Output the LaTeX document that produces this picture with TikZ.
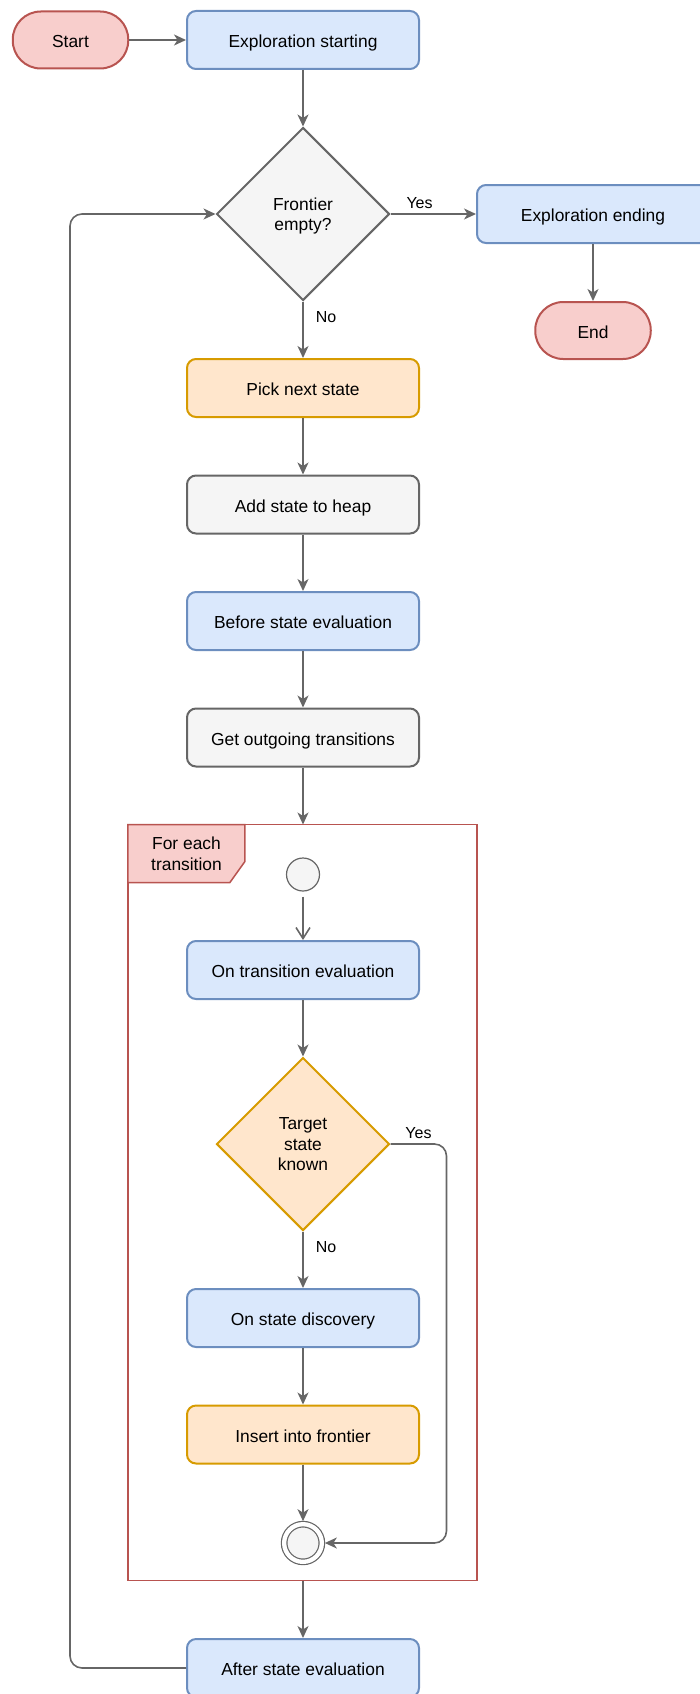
\documentclass[tikz,border=0pt]{standalone}
\usepackage{fontspec}
\setmainfont{Liberation Sans}
\usetikzlibrary{positioning,shapes.geometric,arrows.meta}

\definecolor{bluefill}{HTML}{DAE8FC}
\definecolor{blueline}{HTML}{6C8EBF}
\definecolor{redfill}{HTML}{F8CECC}
\definecolor{redline}{HTML}{B85450}
\definecolor{orangefill}{HTML}{FFE6CC}
\definecolor{orangeline}{HTML}{D79B00}
\definecolor{grayfill}{HTML}{F5F5F5}
\definecolor{grayline}{HTML}{666666}

\tikzset{
	txt/.style={font=\fontsize{17.4}{20.5}\selectfont},
	box/.style={txt, rectangle, rounded corners=9pt, line width=2pt, minimum width=232pt, minimum height=58pt, align=center, text height=15pt, text depth=0pt},
	bluebox/.style={box, draw=blueline, fill=bluefill},
	orangebox/.style={box, draw=orangeline, fill=orangefill},
	graybox/.style={box, draw=grayline, fill=grayfill},
	terminal/.style={txt, rectangle, rounded corners=28pt, line width=2pt, minimum width=115.5pt, minimum height=57pt, draw=redline, fill=redfill, text height=15pt, text depth=0pt},
	decision/.style={txt, diamond, aspect=1, inner sep=0pt, line width=2pt, minimum width=173pt, minimum height=173pt, align=center, text depth=0pt},
	initial/.style={circle, minimum size=33pt, inner sep=0pt, line width=1.2pt, draw=grayline, fill=grayfill},
	final/.style={circle, minimum size=37.7pt, inner sep=0pt, line width=1.2pt, draw=grayline, fill=grayfill, double=white, double distance=4.3pt, outer sep=3pt},
	loopframe/.style={rectangle, draw=redline, line width=1.5pt, outer sep=0pt},
	framelabel/.style={draw=redline, fill=redfill, line width=1.5pt},
	flow/.style={draw=grayline, line width=1.6pt, -{Stealth[length=12pt,width=11pt,inset=3.5pt]}},
	lbl/.style={font=\fontsize{16}{19}\selectfont, inner sep=2pt}
}

\begin{document}
\begin{tikzpicture}[node distance=174pt, on grid]
	\useasboundingbox (0pt,0pt) rectangle (700pt,-1694pt);
	\node[terminal] (start) at (70.5pt,-40pt) {Start};
	\node[bluebox, right=232.5pt of start] (explstart) {Exploration starting};
	\node[decision, draw=grayline, fill=grayfill, below=of explstart] (frontier) {Frontier\\empty?};
	\node[bluebox, right=290pt of frontier] (explend) {Exploration ending};
	\node[terminal, below=116.5pt of explend] (end) {End};
	\node[orangebox, below=of frontier] (pick) {Pick next state};
	\node[graybox, below=116.5pt of pick] (heap) {Add state to heap};
	\node[bluebox, below=116.5pt of heap] (before) {Before state evaluation};
	\node[graybox, below=116.5pt of before] (outgoing) {Get outgoing transitions};
	\node[initial, below=137pt of outgoing] (init) {};
	\node[bluebox, below=95.5pt of init] (ontrans) {On transition evaluation};
	\node[decision, draw=orangeline, fill=orangefill, below=of ontrans] (known) {Target\\state\\known};
	\node[bluebox, below=of known] (discovery) {On state discovery};
	\node[orangebox, below=116.5pt of discovery] (insert) {Insert into frontier};
	\node[final, below=108.5pt of insert] (final) {};
	\node[bluebox, below=125pt of final] (after) {After state evaluation};

	\node[loopframe, minimum width=349pt, minimum height=756pt] (frame) at (302.4pt,-1202.5pt) {};
	\draw[framelabel] (frame.north west) -- ++(117pt,0pt) -- ++(0pt,-37pt) -- ++(-15pt,-21pt) -- ++(-102pt,0pt) -- cycle;
	\node[txt, align=center] (foreach) at (186.5pt,-854pt) {For each\\transition};

	\draw[flow] (start) -- (explstart);
	\draw[flow] (explstart) -- (frontier);
	\draw[flow] (frontier) -- node[lbl, above, pos=0.34, yshift=3pt] (yes1) {Yes} (explend);
	\draw[flow] (explend) -- (end);
	\draw[flow] (frontier) -- node[lbl, right, pos=0.28, xshift=10pt] (no1) {No} (pick);
	\draw[flow] (pick) -- (heap);
	\draw[flow] (heap) -- (before);
	\draw[flow] (before) -- (outgoing);
	\draw[flow] (outgoing) -- (outgoing |- frame.north);
	\draw[draw=grayline, line width=1.6pt, shorten <=5pt, -{Straight Barb[length=11pt,width=14pt]}] (init) -- (ontrans);
	\draw[flow] (ontrans) -- (known);
	\draw[flow] (known) -- node[lbl, right, pos=0.27, xshift=10pt] (no2) {No} (discovery);
	\draw[flow, rounded corners=12pt] (known.east) -- node[lbl, above, yshift=3pt] (yes2) {Yes} ++(56pt,0pt) |- (final.east);
	\draw[flow] (discovery) -- (insert);
	\draw[flow] (insert) -- (final);
	\draw[flow] (outgoing |- frame.south) -- (after);
	\coordinate (loopx) at (70pt,0pt);
	\draw[flow, rounded corners=12pt] (after.west) -- (after.west -| loopx) |- (frontier.west);
\end{tikzpicture}
\end{document}
